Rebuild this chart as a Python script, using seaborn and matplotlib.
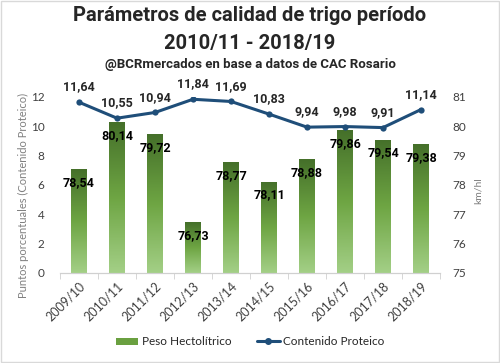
import numpy as np
import seaborn as sns
import matplotlib.pyplot as plt
from matplotlib.colors import LinearSegmentedColormap
from matplotlib.patches import Rectangle, Patch
from matplotlib.lines import Line2D

campaigns = ["2009/10", "2010/11", "2011/12", "2012/13", "2013/14",
             "2014/15", "2015/16", "2016/17", "2017/18", "2018/19"]
peso_hl = [78.54, 80.14, 79.72, 76.73, 78.77, 78.11, 78.88, 79.86, 79.54, 79.38]
proteina = [11.64, 10.55, 10.94, 11.84, 11.69, 10.83, 9.94, 9.98, 9.91, 11.14]


def fmt(v):
    return "{:.2f}".format(v).replace(".", ",")


sns.set_style("white")
plt.rcParams['font.family'] = ['Lato', 'DejaVu Sans']
bold_font = ['Roboto', 'DejaVu Sans']

fig = plt.figure(figsize=(5, 3.63), dpi=100)
ax = fig.add_axes([0.12, 0.248, 0.76, 0.485])

# bars (right axis, km/hl)
sns.barplot(x=campaigns, y=peso_hl, ax=ax, color="#6aa040", width=0.4,
            linewidth=0, zorder=2)

grad = LinearSegmentedColormap.from_list("g", ["#a3cf86", "#6ea543", "#45702a"])
for p in list(ax.patches):
    x0 = p.get_x()
    w = p.get_width()
    h = p.get_y() + p.get_height()
    im = ax.imshow(np.linspace(0, 1, 100).reshape(-1, 1), cmap=grad, origin="lower",
                   extent=[x0, x0 + w, 75, h], aspect="auto", zorder=2)
    im.set_clip_path(p)
ax.set_ylim(75, 81)
ax.set_xlim(-0.5, 9.5)

for i, v in enumerate(peso_hl):
    ax.text(i, v - 0.45, fmt(v), ha="center", va="center", fontsize=9,
            fontweight="bold", family=bold_font, color="black", zorder=5)

# line (left axis, protein)
ax2 = ax.twinx()
sns.lineplot(x=list(range(len(campaigns))), y=proteina, ax=ax2, color="#1f4e79",
             linewidth=2.2, marker="o", markersize=4.5, markeredgewidth=0)
ax2.set_ylim(0, 12)
ax2.set_xlim(-0.5, 9.5)
for i, v in enumerate(proteina):
    ax2.annotate(fmt(v), (i, v), xytext=(0, 11), textcoords="offset points",
                 ha="center", va="center", fontsize=9, fontweight="bold",
                 family=bold_font)

ax.yaxis.tick_right()
ax.yaxis.set_label_position("right")
ax.set_yticks(range(75, 82))
ax.set_ylabel("km/hl", color="#808080", fontsize=7.5)
ax.yaxis.set_label_coords(1.089, 0.47)

ax2.yaxis.tick_left()
ax2.yaxis.set_label_position("left")
ax2.set_yticks(range(0, 13, 2))
ax2.set_ylabel("Puntos porcentuales (Contenido Proteico)", color="#808080",
               fontsize=8)
ax2.yaxis.set_label_coords(-0.082, 0.44)

for a in (ax, ax2):
    for s in ["top", "left", "right"]:
        a.spines[s].set_visible(False)
    a.spines["bottom"].set_color("#d0d0d0")
ax.tick_params(axis="y", length=0, labelsize=8.5, labelcolor="#404040", pad=9)
ax2.tick_params(axis="y", length=0, labelsize=8.5, labelcolor="#404040", pad=11)

ax.set_xticks(range(len(campaigns)))
ax.set_xticklabels(campaigns, rotation=45, ha="right", rotation_mode="anchor",
                   fontsize=9, color="#404040")
ax.set_xticks(np.arange(-0.5, 10, 1), minor=True)
ax.tick_params(axis="x", which="major", length=0, pad=5)
ax.tick_params(axis="x", which="minor", length=4, color="#d0d0d0", bottom=True)

fig.text(0.5, 0.957, "Parámetros de calidad de trigo período",
         ha="center", va="center", fontsize=14.5, fontweight="bold", family=bold_font)
fig.text(0.5, 0.881, "2010/11 - 2018/19",
         ha="center", va="center", fontsize=14.5, fontweight="bold", family=bold_font)
fig.text(0.5, 0.823, "@BCRmercados en base a datos de CAC Rosario",
         ha="center", va="center", fontsize=9.5, fontweight="bold", family=bold_font)

handles = [Patch(facecolor="#6aa040", edgecolor="none"),
           Line2D([0], [0], color="#1f4e79", linewidth=2.2, marker="o", markersize=4)]
fig.legend(handles, ["Peso Hectolítrico", "Contenido Proteico"], loc="center",
           bbox_to_anchor=(0.5, 0.058), ncol=2, frameon=False, fontsize=8.5,
           handlelength=1.9, handleheight=0.6, columnspacing=2.2, handletextpad=0.3)

fig.patches.append(Rectangle((0.002, 0.003), 0.995, 0.993, transform=fig.transFigure,
                             fill=False, edgecolor="#d9d9d9", linewidth=1))

fig.savefig("out.png", dpi=100)
